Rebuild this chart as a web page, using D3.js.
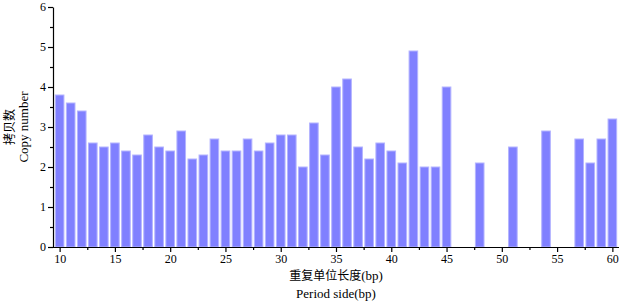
<!DOCTYPE html>
<html>
<head>
<meta charset="utf-8">
<script src="https://cdn.jsdelivr.net/npm/d3@7"></script>
<style>
  body { margin: 0; background: #fff; }
  text { font-family: "Liberation Serif", "Times New Roman", serif; fill: #000; }
  .cjk { font-family: "Noto Sans CJK SC", serif; }
</style>
</head>
<body>
<div id="chart"></div>
<script>
// period sizes (bp) and copy numbers
var periods = [10, 11, 12, 13, 14, 15, 16, 17, 18, 19, 20, 21, 22, 23, 24, 25, 26, 27, 28, 29,
  30, 31, 32, 33, 34, 35, 36, 37, 38, 39, 40, 41, 42, 43, 44, 45, 48, 51, 54, 57, 58, 59, 60];
var copies = [3.8, 3.6, 3.4, 2.6, 2.5, 2.6, 2.4, 2.3, 2.8, 2.5, 2.4, 2.9, 2.2, 2.3, 2.7, 2.4, 2.4, 2.7, 2.4, 2.6,
  2.8, 2.8, 2.0, 3.1, 2.3, 4.0, 4.2, 2.5, 2.2, 2.6, 2.4, 2.1, 4.9, 2.0, 2.0, 4.0, 2.1, 2.5, 2.9, 2.7, 2.1, 2.7, 3.2];
var xTicks = [10, 15, 20, 25, 30, 35, 40, 45, 50, 55, 60];
var yTicks = [0, 1, 2, 3, 4, 5, 6];

var width = 623, height = 302;
var plotLeft = 53, plotRight = 619, plotTop = 7, plotBottom = 247;

var svg = d3.select("#chart").append("svg")
  .attr("width", width)
  .attr("height", height);

var x = d3.scaleLinear().domain([9.4, 60.6]).range([plotLeft, plotRight]);
var y = d3.scaleLinear().domain([0, 6]).range([plotBottom, plotTop]);
var barW = 0.78;

//bars
svg.selectAll("rect.bar")
  .data(periods)
  .enter().append("rect")
  .attr("class", "bar")
  .attr("x", (d) => x(d - barW / 2))
  .attr("y", (d, i) => y(copies[i]))
  .attr("width", x(barW) - x(0))
  .attr("height", (d, i) => y(0) - y(copies[i]))
  .attr("fill", "#8080ff")
  .attr("stroke", "#b4b4ff")
  .attr("stroke-width", 1);

//minor ticks
svg.append("g")
  .attr("transform", `translate(0,${plotBottom})`)
  .call(d3.axisBottom(x).tickValues(d3.range(12.5, 60, 5)).tickSize(3).tickFormat(""))
  .call(g => g.select(".domain").remove());
svg.append("g")
  .attr("transform", `translate(${plotLeft},0)`)
  .call(d3.axisLeft(y).tickValues(d3.range(0.5, 6, 1)).tickSize(3).tickFormat(""))
  .call(g => g.select(".domain").remove());

//major axes
var xAxis = svg.append("g")
  .attr("transform", `translate(0,${plotBottom})`)
  .call(d3.axisBottom(x).tickValues(xTicks).tickSize(5).tickSizeOuter(0).tickFormat(d3.format("d")));
xAxis.select(".domain").attr("d", `M${plotLeft},0.5H${plotRight}`);
xAxis.selectAll("text").attr("font-size", 12).attr("y", 7)
  .style("font-family", "Liberation Serif");

var yAxis = svg.append("g")
  .attr("transform", `translate(${plotLeft},0)`)
  .call(d3.axisLeft(y).tickValues(yTicks).tickSize(5).tickSizeOuter(0).tickFormat(d3.format("d")));
yAxis.selectAll("text").attr("font-size", 12).attr("x", -7)
  .style("font-family", "Liberation Serif");

svg.selectAll(".domain, .tick line").attr("stroke", "#000").attr("stroke-width", 1.2);

//axis titles
var cx = (plotLeft + plotRight) / 2;
var xt = svg.append("text")
  .attr("x", cx).attr("y", 280)
  .attr("text-anchor", "middle")
  .attr("font-size", 13);
xt.append("tspan").attr("class", "cjk").attr("font-size", 12).text("重复单位长度");
xt.append("tspan").text("(bp)");
svg.append("text")
  .attr("x", cx).attr("y", 298)
  .attr("text-anchor", "middle")
  .attr("font-size", 13)
  .text("Period side(bp)");

var cy = (plotTop + plotBottom) / 2;
svg.append("text")
  .attr("class", "cjk")
  .attr("transform", `translate(14,${cy}) rotate(-90)`)
  .attr("text-anchor", "middle")
  .attr("font-size", 12)
  .text("拷贝数");
svg.append("text")
  .attr("transform", `translate(28,${cy}) rotate(-90)`)
  .attr("text-anchor", "middle")
  .attr("font-size", 13)
  .text("Copy number");
</script>
</body>
</html>
